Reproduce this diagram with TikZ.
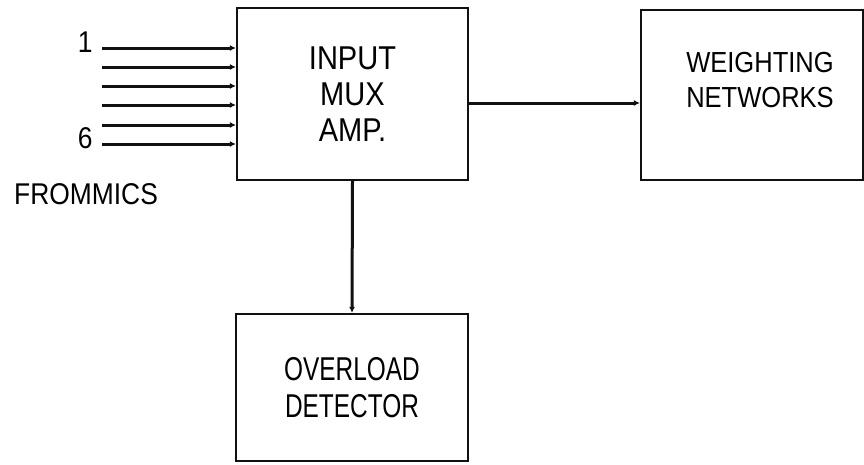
\documentclass[tikz,border=0pt]{standalone}
\usepackage{fontspec}
\usepackage{tikz}
\usetikzlibrary{positioning, arrows.meta}
\newfontfamily\blkfont[FakeStretch=0.74]{Liberation Sans}
\newfontfamily\lblfont[FakeStretch=0.88]{Liberation Sans}
\definecolor{inkblack}{HTML}{111111}

\begin{document}
\begin{tikzpicture}[x=1pt, y=-1pt,
    block/.style={draw=inkblack, line width=2.2pt, align=center, inner sep=0pt},
    wire/.style={draw=inkblack, line width=3pt, -{Latex[length=6pt, width=6pt]}}]

\useasboundingbox (0,0) rectangle (864,464);

% Blocks
\node[block, minimum width=231pt, minimum height=172pt,
      font=\lblfont\fontsize{33}{36}\selectfont] (mux) at (352.5,94) {INPUT\\MUX\\AMP.};
\node[block, minimum width=222pt, minimum height=170pt] (weight) at (752,95) {};
\node[block, minimum width=232pt, minimum height=147pt,
      font=\blkfont\fontsize{33}{37}\selectfont] (ovl) at (352,387.5) {OVERLOAD\\DETECTOR};
\node[font=\lblfont\fontsize{29}{35}\selectfont, align=center] (weighttxt)
    at ([xshift=8pt, yshift=15pt]weight.center) {WEIGHTING\\NETWORKS};

% Mic inputs
\foreach \i/\yy in {1/48, 2/67, 3/86, 4/105, 5/125, 6/144}{
    \coordinate (in\i) at (102,\yy);
    \draw[wire] (in\i) -- (in\i -| mux.west);
}
\node[font=\lblfont\fontsize{30}{30}\selectfont, anchor=east] (lbl1) at ([xshift=-6pt, yshift=6pt]in1) {1};
\node[font=\lblfont\fontsize{30}{30}\selectfont, anchor=east] (lbl6) at ([xshift=-6pt, yshift=6pt]in6) {6};
\node[font=\lblfont\fontsize{30}{30}\selectfont] (mics) at (86,194) {FROMMICS};

% Connectors
\draw[wire] ([yshift=-9pt]mux.east) -- ([yshift=-9pt]mux.east -| weight.west);
\draw[wire] (mux.south) -- (ovl.north);

\end{tikzpicture}
\end{document}
